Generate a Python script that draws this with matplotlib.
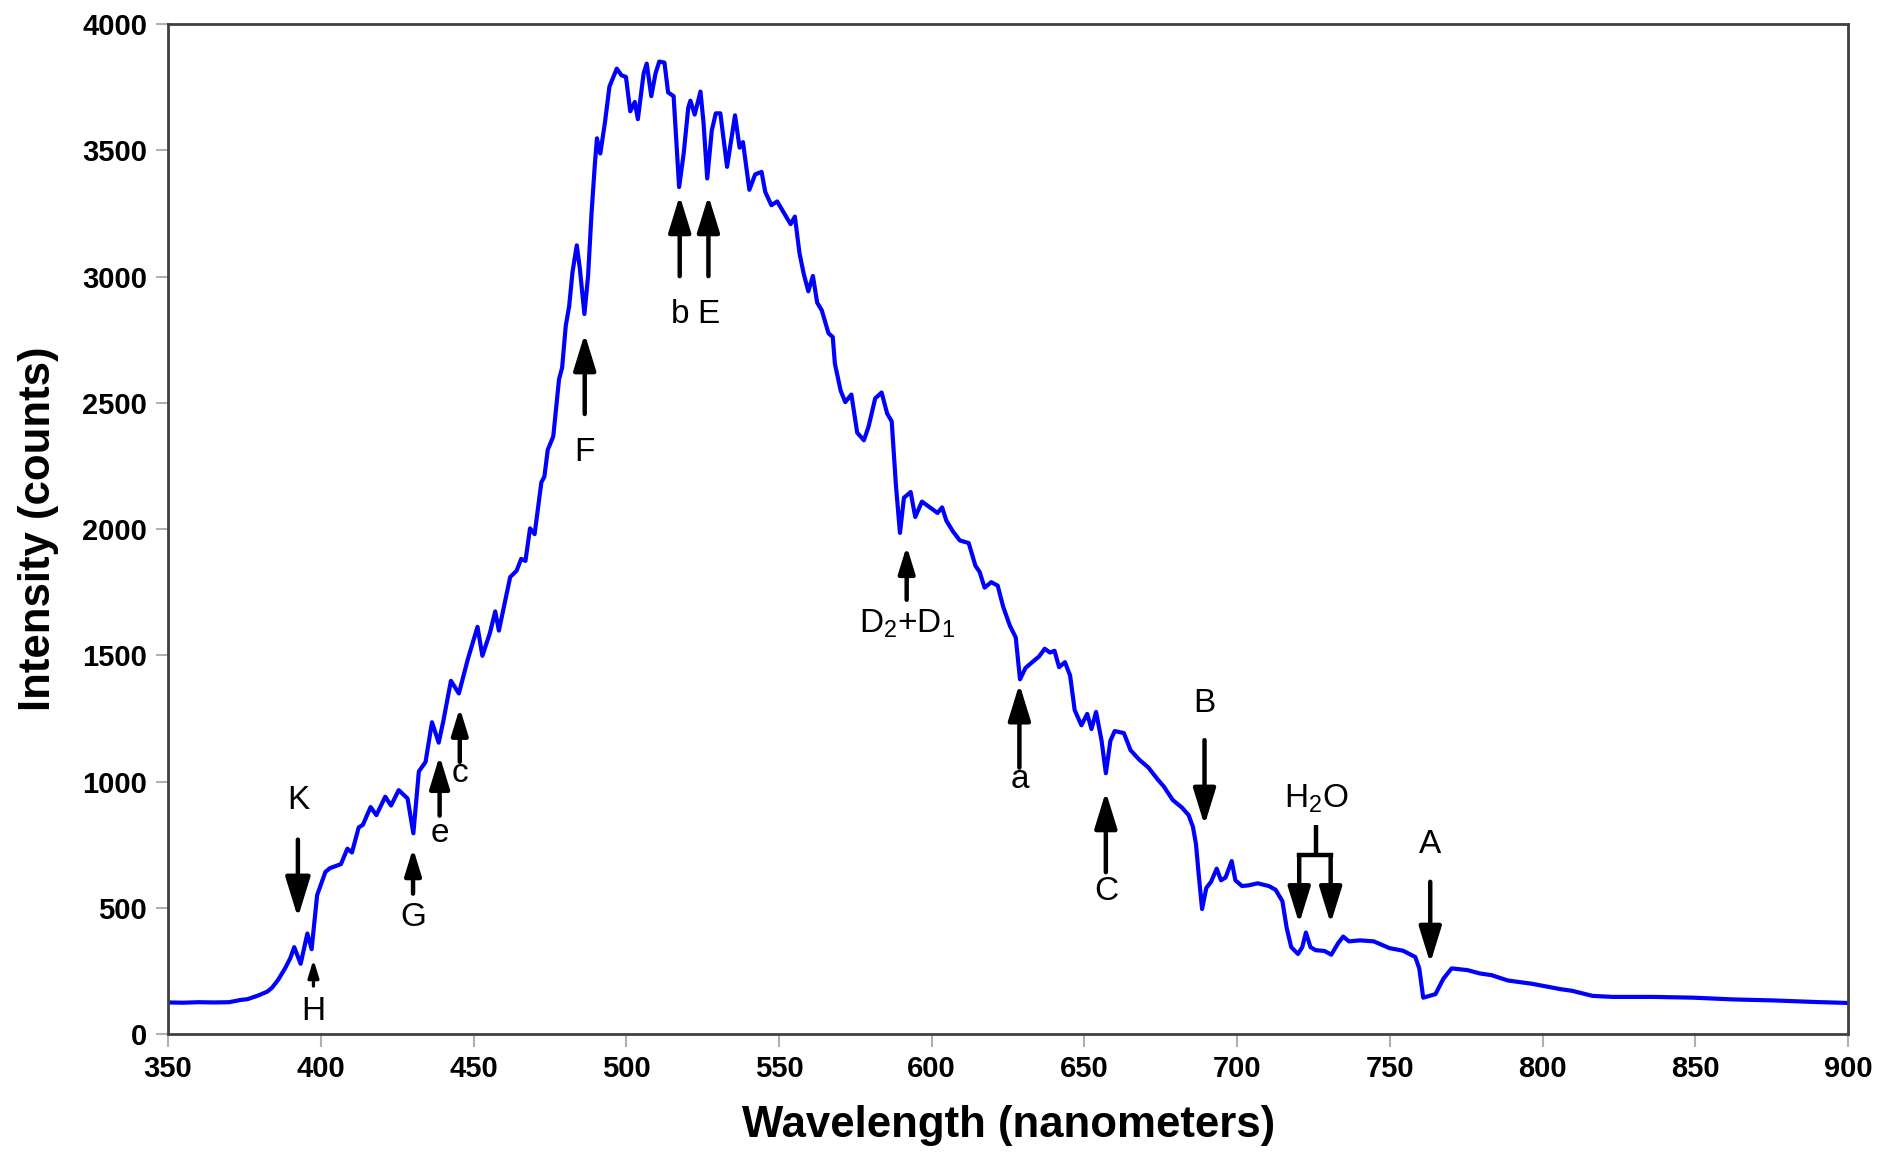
import numpy as np
import matplotlib
matplotlib.use("Agg")
import matplotlib.pyplot as plt

###### DATA ###################################
wavelength = [350, 355, 360, 365, 370, 373.8, 376, 379.6, 382.5, 384, 386, 388.3, 390, 391.3,
              393.4, 395.6, 397, 398.8, 401.5, 403, 406.6, 408.7, 410.2, 412.4, 413.8, 416.3,
              418.2, 421.1, 423, 425.5, 428.4, 430.3, 432.1, 434.3, 436.4, 438.6, 440.1, 442.6,
              445.2, 448.1, 451.3, 452.9, 455.4, 457.1, 458.3, 462, 464.1, 465.6, 467, 468.5,
              470, 472.2, 473.2, 474.3, 476.1, 478, 479, 480.2, 481.3, 482.4, 483.8, 484.8,
              486.3, 487.5, 488.6, 489.7, 490.4, 491.5, 493, 494.5, 496.9, 498.4, 499.9, 501.3,
              502.8, 503.8, 505.7, 506.7, 508.2, 509.6, 510.8, 512.5, 513.7, 515.5, 517.3,
              518.8, 520.3, 521, 522.4, 524.3, 525.3, 526.5, 528, 529.3, 530.8, 533, 535.6,
              537.1, 538.2, 540.3, 542.2, 544.3, 545.5, 547.5, 549.4, 551.6, 553.8, 555.2,
              556.7, 558.1, 559.6, 561.1, 562.5, 564, 566.2, 567.6, 568.3, 570.2, 571.7, 573.7,
              575.6, 577.8, 579.3, 581.5, 583.6, 585.4, 586.9, 588.3, 589.6, 590.9, 593.1,
              594.6, 596.8, 599.4, 601.9, 603.4, 604.8, 607, 609.2, 612.1, 614.3, 615.7, 617.3,
              619.5, 621.6, 623.4, 625.6, 627.5, 628.9, 630.7, 632.9, 635.1, 637, 638.7, 640.2,
              641.7, 643.6, 645.3, 646.8, 649, 650.9, 652.3, 653.8, 655.6, 657, 658.5, 659.9,
              662.9, 665.1, 668, 670.9, 673.8, 676, 678.9, 681.9, 684.1, 685.5, 686.5, 687.4,
              688.5, 689.9, 691.4, 693.3, 694.7, 696.2, 698.2, 699.4, 701.6, 703.8, 706.7,
              710.4, 712.6, 714.8, 716.2, 717.7, 719.9, 721.3, 722.5, 724, 725.7, 728.6, 730.8,
              733, 734.7, 736.6, 740.2, 744.7, 749.9, 754.3, 758.3, 759.6, 760.9, 762.9, 764.9,
              767.5, 770.2, 775.4, 779.4, 783.3, 788.6, 796.5, 805.7, 809.7, 816.3, 822.9, 836,
              849.2, 862.4, 875.6, 888.8, 900]
intensity = [125, 124, 126, 125, 126, 135, 138, 153, 168, 183, 214, 260, 300, 344,
             278, 398, 336, 550, 642, 657, 673, 734, 719, 818, 829, 899,
             867, 940, 905, 966, 933, 795, 1040, 1078, 1235, 1154, 1239, 1399,
             1349, 1483, 1613, 1498, 1590, 1674, 1598, 1810, 1835, 1882, 1874, 2003,
             1980, 2185, 2208, 2314, 2367, 2594, 2639, 2806, 2882, 3018, 3124, 3033,
             2852, 3003, 3245, 3442, 3548, 3488, 3609, 3753, 3824, 3798, 3791, 3655,
             3692, 3624, 3806, 3844, 3715, 3806, 3852, 3848, 3730, 3715, 3355,
             3488, 3670, 3697, 3642, 3733, 3609, 3389, 3579, 3647, 3647, 3435, 3639,
             3511, 3533, 3344, 3405, 3415, 3336, 3283, 3298, 3253, 3208, 3238,
             3094, 3011, 2942, 3003, 2897, 2867, 2776, 2761, 2655, 2548, 2503, 2533,
             2382, 2352, 2405, 2518, 2541, 2458, 2427, 2170, 1985, 2124, 2147,
             2048, 2109, 2086, 2064, 2086, 2033, 1990, 1955, 1945, 1855, 1830, 1768,
             1790, 1776, 1692, 1617, 1571, 1405, 1450, 1473, 1495, 1526, 1511, 1518,
             1453, 1473, 1420, 1283, 1223, 1268, 1208, 1276, 1162, 1033, 1162, 1200,
             1192, 1124, 1086, 1056, 1011, 980, 927, 897, 867, 821, 753, 632,
             495, 579, 602, 655, 609, 620, 685, 609, 586, 589, 597,
             586, 571, 526, 420, 344, 317, 344, 402, 344, 332, 329, 314,
             359, 386, 367, 371, 367, 340, 330, 305, 260, 144, 151, 158,
             219, 260, 253, 240, 233, 212, 199, 178, 171, 151, 147, 147,
             144, 137, 133, 127, 123]

# line labels: (text, x, label y, arrow tail y, arrow head y, arrow size)
line_labels = [
    ("K", 392.5, 926, 770, 461, 1.0),
    ("H", 397.6, 90, 190, 295, 0.42),
    ("G", 430.2, 461, 556, 736, 0.65),
    ("e", 438.9, 793, 865, 1102, 0.8),
    ("c", 445.5, 1031, 1078, 1292, 0.65),
    ("F", 486.4, 2304, 2456, 2774, 0.9),
    ("b", 517.5, 2850, 3002, 3321, 0.9),
    ("E", 526.9, 2850, 3002, 3321, 0.9),
    (r"D$_\mathregular{2}$+D$_\mathregular{1}$", 591.8, 1625, 1720, 1933, 0.65),
    ("a", 628.7, 1007, 1055, 1387, 0.9),
    ("C", 657.0, 565, 641, 960, 0.9),
    ("B", 689.3, 1311, 1164, 827, 0.9),
    ("A", 763.2, 751, 603, 280, 0.9),
]
h2o_left, h2o_right, h2o_mid = 720.3, 730.6, 725.8
###############################################

TEXT_FONT = ["Liberation Sans", "DejaVu Sans"]

fig = plt.figure(figsize=(18.82, 11.53), dpi=100)
ax = fig.add_axes([0.0893, 0.1032, 0.8927, 0.8758])

ax.plot(wavelength, intensity, color="#0000ff", lw=3.0, solid_joinstyle="round")

ax.set_xlim(350, 900)
ax.set_ylim(0, 4000)
ax.set_xticks(np.arange(350, 901, 50))
ax.set_yticks(np.arange(0, 4001, 500))
for lab in ax.get_xticklabels() + ax.get_yticklabels():
    lab.set_family(TEXT_FONT)
    lab.set_fontweight("bold")
    lab.set_fontsize(21)
ax.tick_params(direction="out", length=9, width=1.5, color="#b0b0b0", pad=6)

for sp in ax.spines.values():
    sp.set_color("#404040")
    sp.set_linewidth(2)

ax.set_xlabel("Wavelength (nanometers)", family=TEXT_FONT, fontweight="bold",
              fontsize=31.5, labelpad=16)
ax.set_ylabel("Intensity (counts)", family=TEXT_FONT, fontweight="bold",
              fontsize=31.5, labelpad=17)


def arrow(x, y_tail, y_head, size):
    ax.annotate("", xy=(x, y_head), xytext=(x, y_tail),
                arrowprops=dict(arrowstyle="-|>,head_length=0.65,head_width=0.2",
                                lw=3.2 if size > 0.5 else 2.4, color="black",
                                shrinkA=0, shrinkB=0, mutation_scale=38 * size))


for text, x, ylab, ytail, yhead, size in line_labels:
    arrow(x, ytail, yhead, size)
    ax.text(x, ylab, text, ha="center", va="center", fontsize=24,
            family=TEXT_FONT, color="black")

# water band bracket
ax.plot([h2o_mid, h2o_mid], [827, 708], color="black", lw=3.2, solid_capstyle="butt")
ax.plot([h2o_left, h2o_right], [708, 708], color="black", lw=3.2, solid_capstyle="projecting")
arrow(h2o_left, 708, 437, 0.9)
arrow(h2o_right, 708, 437, 0.9)
ax.text(h2o_mid, 931, r"H$_\mathregular{2}$O", ha="center", va="center", fontsize=24,
        family=TEXT_FONT, color="black")

fig.savefig("out.png", dpi=100)
